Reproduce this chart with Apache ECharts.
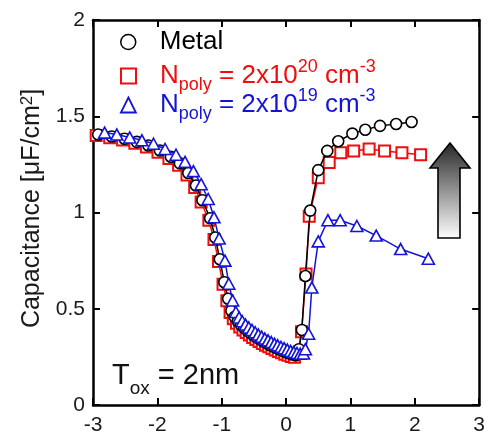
<!DOCTYPE html>
<html>
<head>
<meta charset="UTF-8">
<title>C-V</title>
<script src="https://cdn.jsdelivr.net/npm/echarts@6/dist/echarts.min.js"></script>
<style>
  html, body { margin: 0; padding: 0; background: #fff; }
  #cv { width: 488px; height: 436px; }
</style>
</head>
<body>
<div id="cv"></div>
<script type="text/javascript">
// gate voltage [V] and capacitance [uF/cm2]
var vMetal = [-2.92, -2.71, -2.51, -2.32, -2.14, -1.96, -1.79, -1.65, -1.52, -1.40, -1.30, -1.18, -1.10, -1.03, -0.96, -0.90, -0.85,
  -0.80, -0.75, -0.70, -0.65, -0.60, -0.55, -0.50, -0.45, -0.40, -0.35, -0.30, -0.25, -0.20, -0.15, -0.10, -0.05, 0.00, 0.05, 0.10, 0.15,
  0.20, 0.245, 0.30, 0.375, 0.50, 0.64, 0.81, 1.03, 1.23, 1.46, 1.71, 1.95];
var cMetal = [1.405, 1.395, 1.383, 1.367, 1.348, 1.322, 1.29, 1.255, 1.205, 1.14, 1.064, 0.97, 0.87, 0.757, 0.638, 0.552, 0.49,
  0.458, 0.435, 0.415, 0.40, 0.386, 0.373, 0.361, 0.35, 0.34, 0.33, 0.321, 0.312, 0.304, 0.296, 0.288, 0.281, 0.274, 0.268, 0.262, 0.258,
  0.29, 0.39, 0.67, 1.01, 1.22, 1.32, 1.37, 1.41, 1.43, 1.45, 1.46, 1.47];

var vN20 = [-2.95, -2.74, -2.54, -2.35, -2.17, -1.99, -1.82, -1.67, -1.54, -1.42, -1.32, -1.20, -1.12, -1.05, -0.98, -0.92, -0.87,
  -0.82, -0.77, -0.72, -0.67, -0.62, -0.57, -0.52, -0.47, -0.42, -0.37, -0.32, -0.27, -0.22, -0.17, -0.12, -0.07, -0.02, 0.03, 0.08, 0.13,
  0.19, 0.24, 0.31, 0.36, 0.50, 0.67, 0.85, 1.05, 1.29, 1.53, 1.80, 2.09];
var cN20 = [1.40, 1.388, 1.376, 1.36, 1.34, 1.313, 1.28, 1.245, 1.195, 1.13, 1.055, 0.96, 0.86, 0.745, 0.627, 0.542, 0.48,
  0.448, 0.425, 0.405, 0.39, 0.376, 0.363, 0.351, 0.34, 0.33, 0.32, 0.311, 0.302, 0.294, 0.286, 0.278, 0.271, 0.264, 0.258, 0.252, 0.248,
  0.27, 0.38, 0.68, 0.98, 1.18, 1.26, 1.31, 1.32, 1.33, 1.32, 1.31, 1.30];

var vN19 = [-2.82, -2.63, -2.43, -2.24, -2.06, -1.88, -1.71, -1.57, -1.44, -1.32, -1.21, -1.12, -1.04, -0.95, -0.89, -0.83, -0.78,
  -0.73, -0.68, -0.63, -0.58, -0.53, -0.48, -0.43, -0.38, -0.33, -0.28, -0.23, -0.18, -0.13, -0.08, -0.03, 0.02, 0.07, 0.12, 0.17, 0.22, 0.27,
  0.30, 0.35, 0.40, 0.50, 0.65, 0.84, 1.10, 1.40, 1.78, 2.21];
var cN19 = [1.415, 1.405, 1.39, 1.375, 1.357, 1.33, 1.30, 1.263, 1.215, 1.147, 1.07, 0.975, 0.865, 0.75, 0.63, 0.543, 0.483,
  0.455, 0.435, 0.418, 0.403, 0.39, 0.378, 0.366, 0.355, 0.345, 0.336, 0.327, 0.318, 0.31, 0.302, 0.295, 0.288, 0.281, 0.275, 0.27, 0.266, 0.268,
  0.29, 0.37, 0.61, 0.85, 0.96, 0.96, 0.93, 0.88, 0.81, 0.76];

var seriesNames = ['Metal', 'Npoly = 2x10^20 cm^-3', 'Npoly = 2x10^19 cm^-3'];
var legendText = ['{n|Metal}', '{n|N}{sub|poly}{n| = 2x10}{sup|20}{n| cm}{sup|-3}', '{n|N}{sub|poly}{n| = 2x10}{sup|19}{n| cm}{sup|-3}'];
var xTicks = [-3, 3, 1];
var yTicks = [0, 2, 0.5];

var RED = '#f00d0d', BLUE = '#1414d8', FONT = 'Liberation Sans';

function pairs(v, c) {
  var out = [];
  for (var i = 0; i < v.length; i++) out.push([v[i], c[i]]);
  return out;
}

function oneLegend(i, top, icon, color, iconStyle) {
  return {
    orient: 'vertical', left: 120, top: top, padding: 0,
    itemWidth: 15, itemHeight: 15, selectedMode: false,
    data: [{ name: seriesNames[i], icon: icon, itemStyle: iconStyle }],
    formatter: function () { return legendText[i]; },
    textStyle: { color: color, fontSize: 26, fontFamily: FONT, padding: [0, 0, 0, 19],
      rich: {
        n: { fontSize: 26, lineHeight: 36, fontFamily: FONT, color: color },
        sub: { fontSize: 18, lineHeight: 18, verticalAlign: 'bottom', fontFamily: FONT, color: color },
        sup: { fontSize: 18, lineHeight: 28, verticalAlign: 'top', fontFamily: FONT, color: color }
      } }
  };
}

var frame = { show: true, onZero: false, lineStyle: { color: '#000', width: 2.5 } };
var tick = { show: true, inside: true, length: 7, lineStyle: { color: '#000', width: 2 } };
var tickLabel = { color: '#1a1a1a', fontSize: 21, fontFamily: FONT };

var myChart = echarts.init(document.getElementById('cv'));
var option = {
  animation: false,
  backgroundColor: '#fff',
  grid: { left: 93, right: 6, top: 20, bottom: 27, containLabel: false },
  xAxis: [
    { type: 'value', position: 'bottom', min: xTicks[0], max: xTicks[1], interval: xTicks[2],
      axisLine: frame, axisTick: tick, splitLine: { show: false },
      axisLabel: Object.assign({ margin: 10 }, tickLabel) },
    { type: 'value', position: 'top', min: xTicks[0], max: xTicks[1], interval: xTicks[2],
      axisLine: frame, axisTick: tick, splitLine: { show: false }, axisLabel: { show: false } }
  ],
  yAxis: [
    { type: 'value', position: 'left', min: yTicks[0], max: yTicks[1], interval: yTicks[2],
      axisLine: frame, axisTick: tick, splitLine: { show: false },
      axisLabel: Object.assign({ margin: 8 }, tickLabel),
      name: 'Capacitance [μF/cm{sup|2}]', nameLocation: 'middle', nameGap: 48,
      nameTextStyle: { color: '#1a1a1a', fontSize: 25, fontFamily: FONT, padding: [0, 0, 0, 8],
        rich: { sup: { fontSize: 17, lineHeight: 26, verticalAlign: 'top', fontFamily: FONT, color: '#1a1a1a' } } } },
    { type: 'value', position: 'right', min: yTicks[0], max: yTicks[1], interval: yTicks[2],
      axisLine: frame, axisTick: tick, splitLine: { show: false }, axisLabel: { show: false } }
  ],
  legend: [
    oneLegend(0, 29, 'circle', '#000', { color: '#fff', borderColor: '#000', borderWidth: 1.5 }),
    oneLegend(1, 58, 'rect', RED, { color: '#fff', borderColor: RED, borderWidth: 2 }),
    oneLegend(2, 87, 'triangle', BLUE, { color: '#fff', borderColor: BLUE, borderWidth: 1.8 })
  ],
  graphic: [
    { type: 'text', left: 112, top: 361,
      style: { text: '{n|T}{s|ox}{n| = 2nm}', fill: '#111',
        rich: { n: { fontSize: 29, lineHeight: 33, verticalAlign: 'top', fontFamily: FONT, fill: '#111' },
                s: { fontSize: 19, lineHeight: 37, verticalAlign: 'bottom', fontFamily: FONT, fill: '#111' } } } },
    { type: 'polygon', z: 100,
      shape: { points: [[450, 143], [470, 168], [460, 168], [460, 238], [438, 238], [438, 168], [430, 168]] },
      style: { stroke: '#000', lineWidth: 1.6,
        fill: { type: 'linear', x: 0, y: 0, x2: 0, y2: 1, colorStops: [{ offset: 0, color: '#262626' }, { offset: 1, color: '#ffffff' }] } } }
  ],
  series: [
    { name: seriesNames[1], type: 'line', data: pairs(vN20, cN20), symbol: 'rect', symbolSize: 11,
      lineStyle: { color: RED, width: 1.5 }, itemStyle: { color: '#fff', borderColor: RED, borderWidth: 2 }, z: 2 },
    { name: seriesNames[0], type: 'line', data: pairs(vMetal, cMetal), symbol: 'circle', symbolSize: 11,
      lineStyle: { color: '#000', width: 1.5 }, itemStyle: { color: '#fff', borderColor: '#000', borderWidth: 1.6 }, z: 3 },
    { name: seriesNames[2], type: 'line', data: pairs(vN19, cN19), symbol: 'triangle', symbolSize: [12, 11],
      lineStyle: { color: BLUE, width: 1.5 }, itemStyle: { color: '#fff', borderColor: BLUE, borderWidth: 1.6 }, z: 4 }
  ]
};
myChart.setOption(option);
</script>
</body>
</html>
